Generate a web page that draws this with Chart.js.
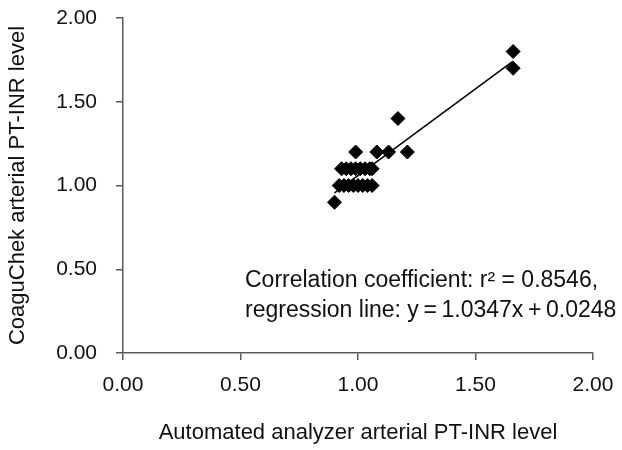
<!DOCTYPE html>
<html>
<head>
<meta charset="utf-8">
<script src="https://cdn.jsdelivr.net/npm/chart.js@4/dist/chart.umd.min.js"></script>
<style>
  html, body { margin: 0; padding: 0; background: #fff; }
  #wrap { width: 622px; height: 450px; }
</style>
</head>
<body>
<div id="wrap"><canvas id="myChart" width="622" height="450"></canvas></div>
<script>
// measured pairs (automated analyzer x, CoaguChek y)
const analyzerInr = [0.90,
  0.92, 0.94, 0.96, 0.98, 1.00, 1.02, 1.04, 1.06,
  0.93, 0.95, 0.97, 0.99, 1.01, 1.03, 1.05, 1.06,
  0.99, 1.08, 1.13, 1.21,
  1.17, 1.66, 1.66];
const coaguchekInr = [0.90,
  1.00, 1.00, 1.00, 1.00, 1.00, 1.00, 1.00, 1.00,
  1.10, 1.10, 1.10, 1.10, 1.10, 1.10, 1.10, 1.10,
  1.20, 1.20, 1.20, 1.20,
  1.40, 1.70, 1.80];

// regression line as printed on the chart
const slope = 1.0347;
const intercept = 0.0248;
const lineRange = [0.90, 1.66];

const tickValues = [0, 0.5, 1.0, 1.5, 2.0];
const noteLines = ['Correlation coefficient: r\u00b2 = 0.8546,',
                   'regression line: y\u2009=\u20091.0347x\u2009+\u20090.0248'];

const FONT = "'Liberation Sans', Arial, sans-serif";
const ink = '#111';
const axisGray = '#5a5a5a';

let points = analyzerInr.map((x, i) => ({x: x, y: coaguchekInr[i]}));
let fitLine = lineRange.map(x => ({x: x, y: slope * x + intercept}));

// text box in the lower right of the plot
const notePlugin = {
  id: 'note',
  afterDraw(chart) {
    const ctx = chart.ctx;
    ctx.save();
    ctx.font = '23px ' + FONT;
    ctx.fillStyle = ink;
    ctx.textBaseline = 'alphabetic';
    ctx.textAlign = 'left';
    ctx.fillText(noteLines[0], 245, 287);
    ctx.fillText(noteLines[1], 245, 317);
    ctx.restore();
  }
};

new Chart(document.getElementById('myChart'), {
  type: 'scatter',
  data: {
    datasets: [
      {
        data: fitLine,
        type: 'line',
        borderColor: '#000',
        borderWidth: 1.5,
        pointRadius: 0,
        fill: false,
        order: 2
      },
      {
        data: points,
        pointStyle: 'rectRot',
        pointRadius: 7,
        pointHoverRadius: 7,
        backgroundColor: '#000',
        borderColor: '#000',
        borderWidth: 1,
        order: 1
      }
    ]
  },
  options: {
    responsive: false,
    animation: false,
    events: [],
    layout: { padding: { top: 18, right: 29, left: 0, bottom: 0 } },
    plugins: { legend: { display: false }, tooltip: { enabled: false } },
    scales: {
      x: {
        type: 'linear',
        min: 0, max: 2,
        afterBuildTicks: s => { s.ticks = tickValues.map(v => ({value: v})); },
        afterFit: s => { s.height = 97; s.paddingLeft = 0; s.paddingRight = 0; },
        grid: { drawOnChartArea: false, drawTicks: true, tickLength: 7, color: axisGray, lineWidth: 1.5 },
        border: { display: true, color: axisGray, width: 1.5 },
        ticks: { color: ink, font: { family: FONT, size: 21 }, padding: 13, maxRotation: 0,
                 callback: v => Number(v).toFixed(2) },
        title: { display: true, text: 'Automated analyzer arterial PT-INR level', color: ink,
                 font: { family: FONT, size: 22 }, padding: { top: 0, bottom: 4 } }
      },
      y: {
        type: 'linear',
        min: 0, max: 2,
        afterBuildTicks: s => { s.ticks = tickValues.map(v => ({value: v})); },
        afterFit: s => { s.width = 123; s.paddingTop = 0; s.paddingBottom = 0; },
        grid: { drawOnChartArea: false, drawTicks: true, tickLength: 7, color: axisGray, lineWidth: 1.5 },
        border: { display: true, color: axisGray, width: 1.5 },
        ticks: { color: ink, font: { family: FONT, size: 21 }, padding: 19,
                 callback: v => Number(v).toFixed(2) },
        title: { display: true, text: 'CoaguChek arterial PT-INR level', color: ink,
                 font: { family: FONT, size: 22 }, padding: { top: 5, bottom: 0 } }
      }
    }
  },
  plugins: [notePlugin]
});
</script>
</body>
</html>
